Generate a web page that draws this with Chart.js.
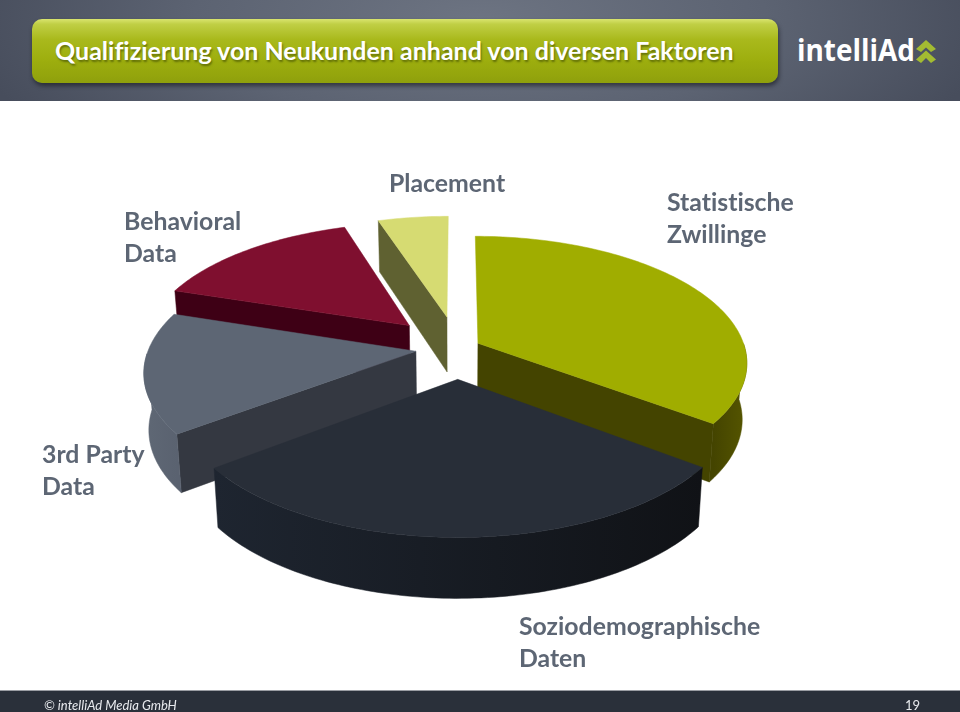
<!DOCTYPE html>
<html lang="de">
<head>
<meta charset="utf-8">
<title>Qualifizierung von Neukunden</title>
<script src="https://cdn.jsdelivr.net/npm/chart.js@4/dist/chart.umd.min.js"></script>
<style>
  html,body{margin:0;padding:0;width:960px;height:712px;overflow:hidden;background:#fff;font-family:Lato,sans-serif}
  #head{position:absolute;left:0;top:0;width:960px;height:101px;
    background:radial-gradient(ellipse 520px 190px at 480px 20px,#6d7482 0%,#5c6372 55%,#474d5c 100%)}
  #bar{position:absolute;left:32px;top:19px;width:746px;height:64px;border-radius:10px;
    background:linear-gradient(180deg,#d9e46e 0%,#c0cf45 8%,#a9b91c 32%,#9dae0e 65%,#8fa00c 100%);
    box-shadow:1px 3px 4px rgba(20,22,30,.6)}
  #title{position:absolute;left:55px;top:34px;color:#fff;font:700 25px/32px Lato,sans-serif;white-space:nowrap;
    font-variant-ligatures:none;text-shadow:1px 2px 2px rgba(50,60,0,.55)}
  #logo{position:absolute;left:797px;top:30px;color:#fff;font:700 30px/40px "Open Sans",sans-serif;white-space:nowrap;
    transform-origin:0 50%;transform:scaleX(.93);font-variant-ligatures:none}
  #chev{position:absolute;left:916px;top:40px}
  #foot{position:absolute;left:0;top:690px;width:960px;height:22px;background:#2a303a;border-top:1px solid #9a9da3;box-sizing:border-box;color:#e8eaee;font:italic 13px/28px Lato,sans-serif}
  #foot span{position:absolute;top:0}
  canvas{position:absolute;left:0;top:0}
</style>
</head>
<body>
<div id="head"></div>
<div id="bar"></div>
<div id="title">Qualifizierung von Neukunden anhand von diversen Faktoren</div>
<div id="logo">intelliAd</div>
<svg id="chev" width="20" height="23" viewBox="0 0 20 23"><path d="M10 0 L20 9 L15 12 L10 7.5 L5 12 L0 9 Z M10 10.5 L20 19.5 L15 23 L10 18 L5 23 L0 19.5 Z" fill="#a3bb32"/></svg>
<canvas id="c" width="960" height="712"></canvas>
<div id="foot"><span style="left:44px">© intelliAd Media GmbH</span><span style="left:905px;font-style:normal">19</span></div>
<script>
const categories = ['Statistische Zwillinge','Soziodemographische Daten','3rd Party Data','Behavioral Data','Placement'];
const shares = [35.2, 29.5, 15.3, 15.0, 5.0];
const topColors = ['#a0ad00','#282e38','#5d6674','#7f0f2f','#d6db72'];

const pie3d = {
  id:'pie3d',
  beforeDatasetDraw(chart){
    const o = chart.options.plugins.pie3d;
    const ctx = chart.ctx;
    const arcs = chart.getDatasetMeta(0).data;
    const place = (el,a,r,level)=>{
      const mid=(el.startAngle+el.endAngle)/2, off=el.options.offset;
      const X=off*Math.cos(mid)+r*Math.cos(a), Z=off*Math.sin(mid)+r*Math.sin(a);
      const w=1-o.persp*Z;
      return [el.x+X/w*(1-o.shrink*level), el.y+o.tilt*Z/w+level*(o.depth+o.depthSlope*Z)];
    };
    const fill=(pts,color)=>{
      ctx.beginPath();
      pts.forEach((p,i)=>i?ctx.lineTo(p[0],p[1]):ctx.moveTo(p[0],p[1]));
      ctx.closePath();
      ctx.fillStyle=color; ctx.strokeStyle=color; ctx.lineWidth=.5;
      ctx.fill(); ctx.stroke();
    };
    const order=arcs.map((el,i)=>{
      const mid=(el.startAngle+el.endAngle)/2;
      return {el,i,key:(el.options.offset+el.outerRadius/2)*Math.sin(mid)};
    }).sort((a,b)=>a.key-b.key);
    ctx.save();
    order.forEach(({el,i})=>{
      const n=Math.ceil((el.endAngle-el.startAngle)/0.02);
      const angles=[];
      for(let k=0;k<=n;k++) angles.push(el.startAngle+(el.endAngle-el.startAngle)*k/n);
      const R=el.outerRadius;
      const apexT=place(el,0,0,0), apexB=place(el,0,0,1);
      const tTop=angles.map(a=>place(el,a,R,0)), last=n;
      const tBot=angles.map(a=>place(el,a,R,1));
      if(-Math.cos(el.startAngle)>1e-6) fill([apexT,apexB,tBot[0],tTop[0]],o.cutColors[i]);
      if(Math.cos(el.endAngle)>1e-6) fill([apexT,apexB,tBot[last],tTop[last]],o.cutColors[i]);
      const front=angles.filter(a=>Math.sin(a)>=0);
      if(front.length>1){
        const wt=front.map(a=>place(el,a,R,0)), wb=front.map(a=>place(el,a,R,1));
        const xs=wt.map(p=>p[0]);
        const g=ctx.createLinearGradient(Math.min(...xs),0,Math.max(...xs),0);
        g.addColorStop(0,o.wallColors[i][0]); g.addColorStop(1,o.wallColors[i][1]);
        fill(wt.concat(wb.slice().reverse()),g);
      }
      fill([apexT].concat(tTop),el.options.backgroundColor);
    });
    ctx.restore();
    return false;
  },
  afterDraw(chart){
    const o=chart.options.plugins.pie3d, ctx=chart.ctx;
    ctx.save();
    ctx.font=o.labelFont; ctx.fillStyle=o.labelColor; ctx.textAlign='left'; ctx.textBaseline='alphabetic';
    ctx.letterSpacing='0.01px';
    chart.data.labels.forEach((t,i)=>{
      const words=o.labelLines[i], at=o.labelAt[i];
      words.forEach((w,k)=>ctx.fillText(w,at[0],at[1]+k*o.labelLead));
    });
    ctx.restore();
  }
};

new Chart(document.getElementById('c'),{
  type:'pie',
  data:{labels:categories,datasets:[{data:shares,backgroundColor:topColors,borderWidth:0,offset:[23,65,42,70,70]}]},
  options:{
    responsive:false,animation:false,radius:267,
    layout:{padding:{right:45,bottom:16}},
    events:[],
    plugins:{
      legend:{display:false},tooltip:{enabled:false},
      pie3d:{
        persp:.000557,tilt:.465,depth:56,depthSlope:.015,shrink:.016,
        cutColors:['#444400','#1e242e','#343841','#3e0015','#5f6131'],
        wallColors:[['#444400','#565600'],['#1e2530','#101216'],['#5f6875','#5a6270'],['#3e0015','#3e0015'],['#5f6131','#5f6131']],
        labelFont:'700 24.8px Lato, sans-serif',labelColor:'#5d6674',labelLead:32,
        labelLines:[['Statistische','Zwillinge'],['Soziodemographische','Daten'],['3rd Party','Data'],['Behavioral','Data'],['Placement']],
        labelAt:[[667,211],[519,635],[42,463],[124,230],[389,192]]
      }
    }
  },
  plugins:[pie3d]
});
</script>
</body>
</html>
